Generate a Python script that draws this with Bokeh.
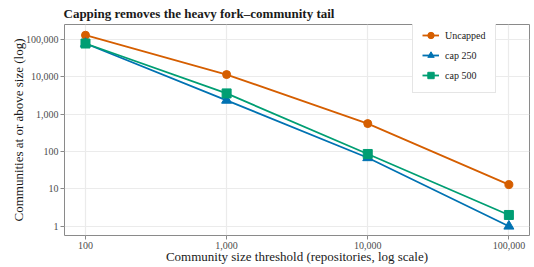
from bokeh.plotting import figure
from bokeh.models import FixedTicker, NumeralTickFormatter, Legend, LegendItem, Range1d
from bokeh.embed import file_html
from bokeh.resources import INLINE

thresholds = [100, 1000, 10000, 100000]
uncapped = [130000, 11500, 560, 13]
cap250 = [78000, 2350, 68, 1]
cap500 = [78000, 3600, 86, 2]
x_ticks = [100, 1000, 10000, 100000]
y_ticks = [1, 10, 100, 1000, 10000, 100000]

SERIF = "Liberation Serif"

p = figure(width=534, height=267, x_axis_type="log", y_axis_type="log",
           x_range=Range1d(71, 140000), y_range=Range1d(0.564, 252000),
           output_backend="svg", toolbar_location=None,
           min_border_left=64, min_border_right=5, min_border_top=24, min_border_bottom=32)

p.title.text = "Capping removes the heavy fork\u2013community tail"
p.title.text_font = SERIF
p.title.text_font_size = "13px"
p.title.text_font_style = "bold"
p.title.text_color = "#1a1a1a"
p.title.offset = -1
p.title.standoff = 3
p.title.vertical_align = "top"

p.outline_line_color = "#8a8a8a"
p.outline_line_width = 1
p.background_fill_color = "white"
p.border_fill_color = "white"

for ax in (p.xaxis[0], p.yaxis[0]):
    ax.axis_line_color = None
    ax.major_tick_line_color = "#8a8a8a"
    ax.major_tick_out = 4
    ax.major_tick_in = 0
    ax.minor_tick_line_color = None
    ax.major_label_text_font = SERIF
    ax.major_label_text_font_size = "10px"
    ax.major_label_text_color = "#4d4d4d"
    ax.axis_label_text_font = SERIF
    ax.axis_label_text_font_size = "13px"
    ax.axis_label_text_font_style = "normal"
    ax.axis_label_text_color = "#1a1a1a"
    ax.formatter = NumeralTickFormatter(format="0,0")

p.xaxis.ticker = FixedTicker(ticks=x_ticks)
p.yaxis.ticker = FixedTicker(ticks=y_ticks)
p.xaxis.axis_label = "Community size threshold (repositories, log scale)"
p.yaxis.axis_label = "Communities at or above size (log)"
p.xaxis.major_label_standoff = 2
p.xaxis.axis_label_standoff = -3
p.yaxis.major_label_standoff = 2
p.yaxis.axis_label_standoff = -3

p.xgrid.grid_line_color = "#ebebeb"
p.ygrid.grid_line_color = "#ebebeb"
p.xgrid.grid_line_width = 1.2
p.ygrid.grid_line_width = 1.2
p.xgrid.minor_grid_line_color = None
p.ygrid.minor_grid_line_color = None

C_UN = "#D55E00"
C_250 = "#0072B2"
C_500 = "#009E73"

l1 = p.line(thresholds, uncapped, line_color=C_UN, line_width=1.8)
m1 = p.scatter(thresholds, uncapped, marker="circle", size=8, fill_color=C_UN, line_color=C_UN)
l2 = p.line(thresholds, cap250, line_color=C_250, line_width=1.8)
m2 = p.scatter(thresholds, cap250, marker="triangle", size=10, fill_color=C_250, line_color=C_250)
l3 = p.line(thresholds, cap500, line_color=C_500, line_width=1.8)
m3 = p.scatter(thresholds, cap500, marker="square", size=9, fill_color=C_500, line_color=C_500)

legend = Legend(items=[
    LegendItem(label="Uncapped", renderers=[l1, m1]),
    LegendItem(label="cap 250", renderers=[l2, m2]),
    LegendItem(label="cap 500", renderers=[l3, m3]),
], location=(348, 142))
legend.label_text_font = SERIF
legend.label_text_font_size = "10px"
legend.label_text_color = "#1a1a1a"
legend.border_line_color = "#cccccc"
legend.border_line_width = 1
legend.background_fill_color = "white"
legend.background_fill_alpha = 1
legend.padding = 9
legend.spacing = 4
legend.glyph_width = 17
legend.glyph_height = 16
legend.label_height = 16
legend.label_standoff = 6
legend.margin = 0
p.add_layout(legend, "center")

open("out.html", "w").write(file_html(p, INLINE))
